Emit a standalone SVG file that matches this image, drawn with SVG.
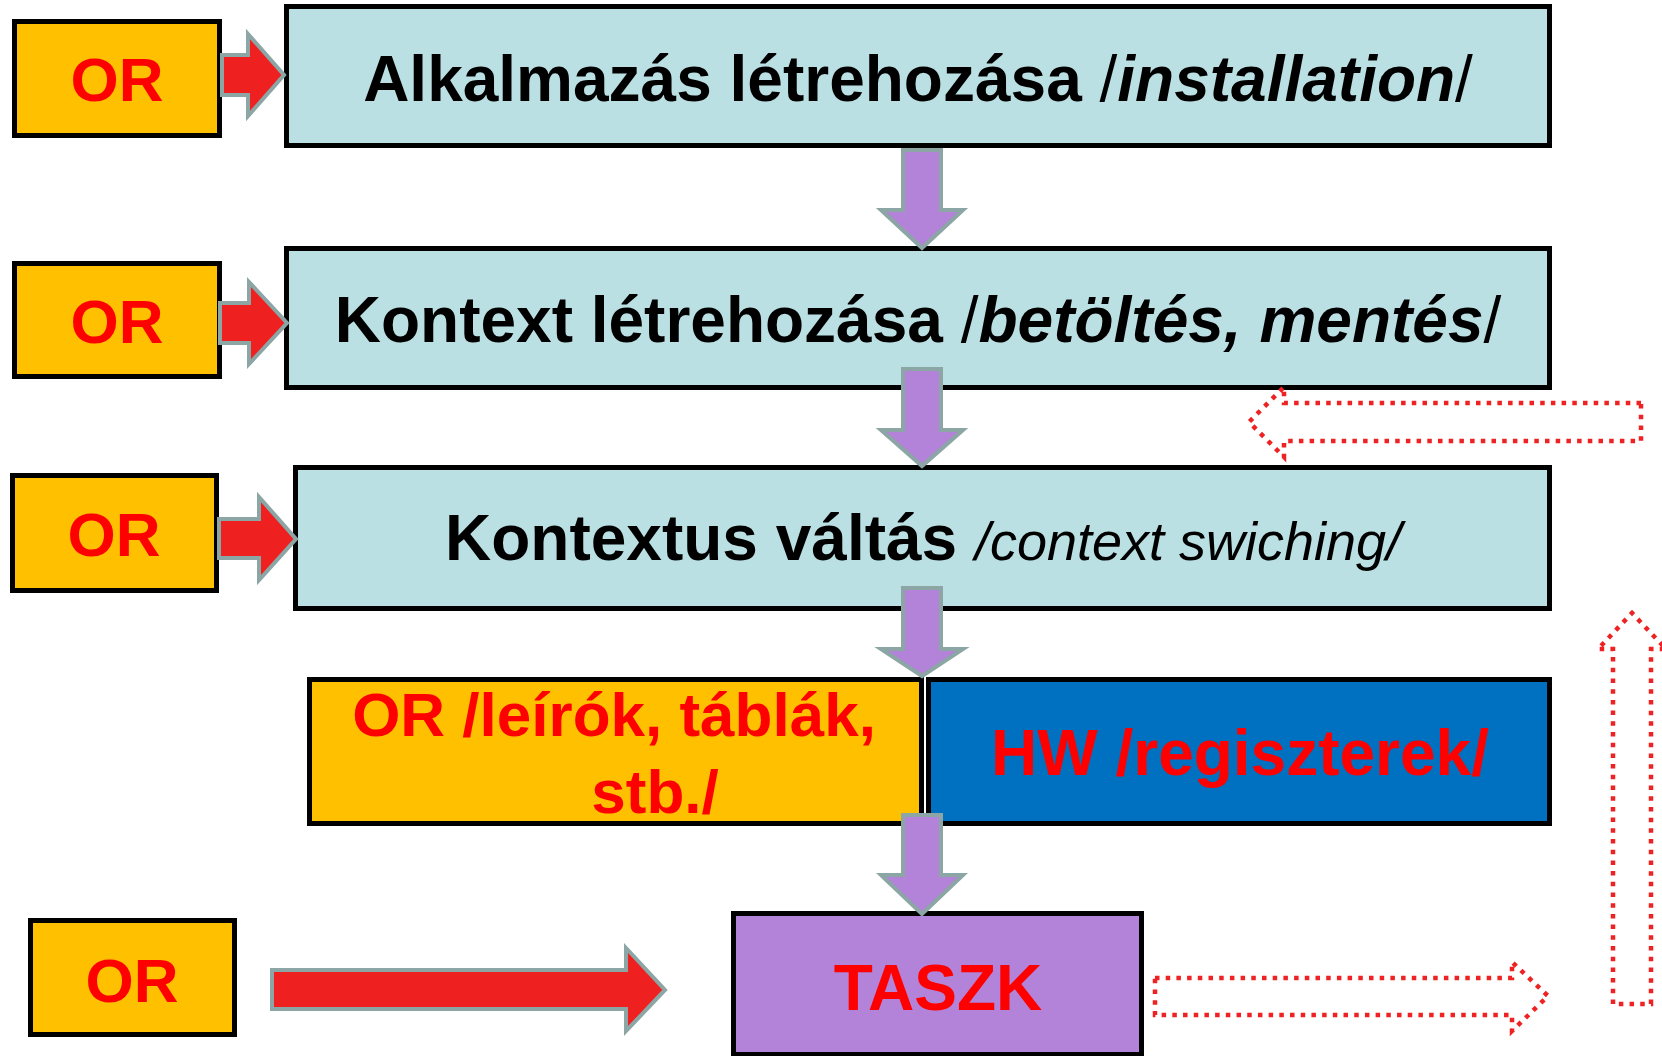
<svg xmlns="http://www.w3.org/2000/svg" width="1662" height="1056" viewBox="0 0 1662 1056">
<style>
.box{stroke:#000;stroke-width:5}
.main{fill:#BBE0E3}
.or{fill:#FFC000}
.hw{fill:#0070C0}
.task{fill:#B283D9}
.t{font-family:"Liberation Sans",Arial,sans-serif;font-weight:bold;font-size:64px}
.ort{font-size:62px}
.blk{fill:#000}
.red{fill:#FF0000}
.sl{font-weight:normal;font-style:normal}
.it{font-style:italic}
.redarrow{fill:#EE2020;stroke:#8CA5A5;stroke-width:4;stroke-linejoin:miter}
.downarrow{fill:#B283D9;stroke:#8CA5A5;stroke-width:4;stroke-linejoin:miter}
.dot{fill:none;stroke:#EE2222;stroke-width:4.5;stroke-dasharray:4.5 6.2}
</style>
<rect width="1662" height="1056" fill="#fff"/>
<g id="or1"><rect class="box or" x="14.5" y="21.5" width="205" height="114"/><text class="t ort red" x="117" y="101" text-anchor="middle">OR</text></g>
<g id="or2"><rect class="box or" x="14.5" y="263.5" width="205" height="113"/><text class="t ort red" x="117" y="343" text-anchor="middle">OR</text></g>
<g id="or3"><rect class="box or" x="12.5" y="475.5" width="204" height="115"/><text class="t ort red" x="114" y="556" text-anchor="middle">OR</text></g>
<g id="or5"><rect class="box or" x="30.5" y="920.5" width="204" height="114"/><text class="t ort red" x="132" y="1002" text-anchor="middle">OR</text></g>
<g id="install"><rect class="box main" x="286.5" y="6.5" width="1263" height="139"/><text class="t blk" x="918" y="101" text-anchor="middle">Alkalmazás létrehozása <tspan class="sl">/</tspan><tspan class="it">installation</tspan><tspan class="sl">/</tspan></text></g>
<g id="context"><rect class="box main" x="286.5" y="248.5" width="1263" height="139"/><text class="t blk" x="918" y="342" text-anchor="middle">Kontext létrehozása <tspan class="sl">/</tspan><tspan class="it">betöltés, mentés</tspan><tspan class="sl">/</tspan></text></g>
<g id="switch"><rect class="box main" x="295.5" y="467.5" width="1254" height="141"/><text class="t blk" x="445" y="560">Kontextus váltás <tspan font-weight="normal" font-style="italic" font-size="54">/context swiching/</tspan></text></g>
<g id="ortables"><rect class="box or" x="309.5" y="679.5" width="612" height="144"/><text class="t ort red" x="614" y="736" text-anchor="middle">OR /leírók, táblák,</text><text class="t ort red" x="655" y="813" text-anchor="middle">stb./</text></g>
<g id="hw"><rect class="box hw" x="928.5" y="679.5" width="621" height="144"/><text class="t red" x="1240" y="775" text-anchor="middle">HW /regiszterek/</text></g>
<g id="taszk"><rect class="box task" x="733.5" y="913.5" width="408" height="141"/><text class="t red" x="938" y="1010" text-anchor="middle">TASZK</text></g>
<g id="connectors">
<path class="redarrow" d="M222,55 H248 V34 L284,75 L248,116 V95 H222 Z"/>
<path class="redarrow" d="M220,303 H249 V282 L287,323 L249,364 V343 H220 Z"/>
<path class="redarrow" d="M219,519 H259 V497 L296,539 L259,580 V558 H219 Z"/>
<path class="redarrow" d="M272,970 H626 V948 L665,990 L626,1031 V1009 H272 Z"/>
<path class="downarrow" d="M903,150 H941 V210 H963 L922,248 L881,210 H903 Z"/>
<path class="downarrow" d="M903,369 H941 V430 H963 L922,466 L881,430 H903 Z"/>
<path class="downarrow" d="M903,588 H941 V649 H963 L922,676 L881,649 H903 Z"/>
<path class="downarrow" d="M903,815 H941 V875 H963 L922,914 L881,875 H903 Z"/>
<path class="dot" d="M1641,403 H1284 V387 L1249,422 L1284,457 V441 H1641 Z"/>
<path class="dot" d="M1613,1004 V649 H1598 L1632,613 L1666,649 H1651 V1004 Z"/>
<path class="dot" d="M1155,978 H1512 V962 L1548,996 L1512,1031 V1015 H1155 Z"/>
</g>
</svg>
